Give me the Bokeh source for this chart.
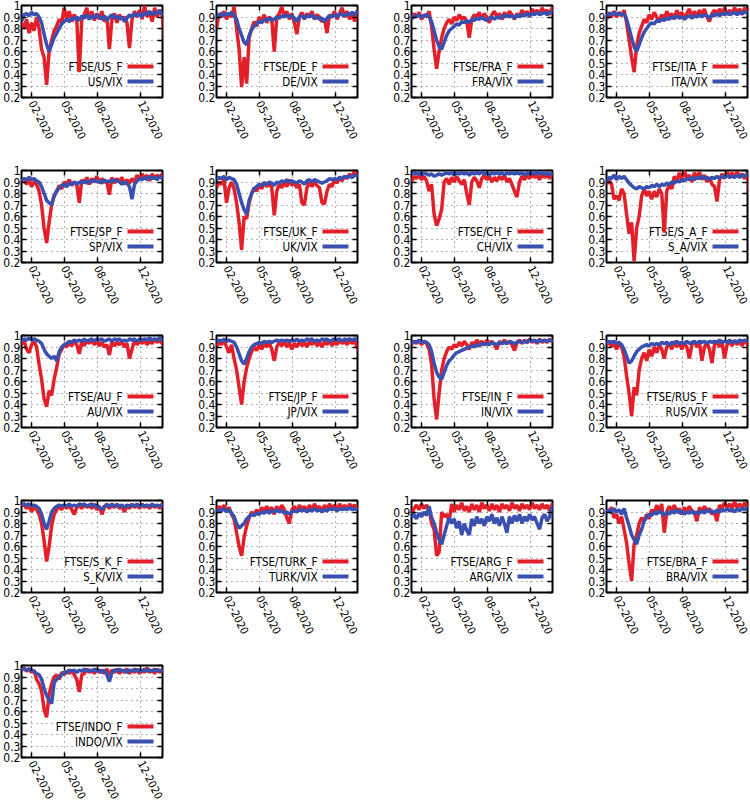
import pandas as pd
from bokeh.plotting import figure
from bokeh.layouts import row, column
from bokeh.models import (Range1d, FixedTicker, DatetimeTickFormatter, LinearAxis,
                          CustomJSTickFormatter, Label, BoxAnnotation)
from bokeh.embed import file_html
from bokeh.resources import INLINE

# ---------------- data (weekly readings) ----------------
dates = pd.date_range("2020-01-03", periods=58, freq="7D")
x_start = pd.Timestamp("2020-01-03")
x_end = pd.Timestamp("2021-01-30")
x_tick_dates = ["2020-02-01", "2020-05-01", "2020-08-01", "2020-12-01"]
y_ticks = [0.2, 0.3, 0.4, 0.5, 0.6, 0.7, 0.8, 0.9, 1.0]

codes = ["US", "DE", "FRA", "ITA", "SP", "UK", "CH", "S_A", "AU", "JP",
         "IN", "RUS", "S_K", "TURK", "ARG", "BRA", "INDO"]

ftse_us_f = [0.85, 0.80, 0.88, 0.76, 0.85, 0.78, 0.90, 0.80, 0.62, 0.55,
             0.31, 0.60, 0.70, 0.78, 0.82, 0.88, 0.85, 0.98, 0.88, 0.95,
             0.86, 0.92, 0.88, 0.42, 0.88, 0.92, 0.98, 0.88, 0.95, 0.87,
             0.93, 0.88, 0.95, 0.86, 0.90, 0.62, 0.88, 0.93, 0.85, 0.92,
             0.88, 0.90, 0.85, 0.63, 0.88, 0.95, 0.90, 0.96, 0.88, 1.00,
             0.90, 0.95, 0.86, 0.98, 0.90, 0.96, 0.92, 0.70]
us_vix = [0.86, 0.92, 0.93, 0.91, 0.94, 0.92, 0.93, 0.90, 0.85, 0.75,
          0.66, 0.60, 0.66, 0.72, 0.76, 0.80, 0.84, 0.86, 0.88, 0.86,
          0.89, 0.88, 0.90, 0.87, 0.91, 0.89, 0.92, 0.88, 0.91, 0.89,
          0.92, 0.90, 0.88, 0.91, 0.87, 0.90, 0.92, 0.89, 0.91, 0.88,
          0.90, 0.86, 0.89, 0.92, 0.90, 0.93, 0.91, 0.93, 0.90, 0.94,
          0.92, 0.95, 0.92, 0.94, 0.93, 0.96, 0.92, 0.94]

ftse_de_f = [0.80, 0.93, 0.90, 0.95, 0.88, 0.93, 0.90, 0.99, 0.80, 0.62,
             0.29, 0.55, 0.32, 0.72, 0.80, 0.86, 0.82, 0.90, 0.86, 0.92,
             0.85, 0.90, 0.88, 0.60, 0.90, 0.93, 0.99, 0.90, 0.95, 0.88,
             0.93, 0.85, 0.75, 0.90, 0.94, 0.88, 0.93, 0.90, 0.95, 0.88,
             0.92, 0.90, 0.86, 0.88, 0.76, 0.92, 0.90, 0.95, 0.88, 0.93,
             0.98, 0.90, 0.95, 0.88, 0.93, 0.86, 0.95, 0.88]
de_vix = [0.89, 0.92, 0.93, 0.91, 0.93, 0.92, 0.94, 0.91, 0.88, 0.80,
          0.74, 0.68, 0.66, 0.74, 0.79, 0.82, 0.84, 0.86, 0.85, 0.88,
          0.87, 0.89, 0.87, 0.88, 0.90, 0.89, 0.91, 0.90, 0.92, 0.90,
          0.91, 0.89, 0.86, 0.90, 0.91, 0.89, 0.91, 0.90, 0.92, 0.89,
          0.90, 0.88, 0.89, 0.86, 0.89, 0.91, 0.90, 0.92, 0.90, 0.93,
          0.92, 0.91, 0.93, 0.92, 0.94, 0.92, 0.95, 0.93]

ftse_fra_f = [0.88, 0.93, 0.90, 0.94, 0.88, 0.92, 0.90, 0.95, 0.82, 0.62,
              0.45, 0.60, 0.72, 0.80, 0.85, 0.88, 0.84, 0.90, 0.87, 0.92,
              0.88, 0.90, 0.86, 0.72, 0.88, 0.92, 0.90, 0.94, 0.88, 0.93,
              0.90, 0.85, 0.92, 0.95, 0.90, 0.93, 0.88, 0.94, 0.90, 0.95,
              0.92, 0.88, 0.93, 0.90, 0.96, 0.92, 0.95, 0.90, 0.97, 0.93,
              0.96, 0.92, 0.98, 0.94, 0.96, 0.92, 0.98, 0.95]
fra_vix = [0.88, 0.91, 0.90, 0.92, 0.90, 0.91, 0.92, 0.90, 0.86, 0.78,
           0.70, 0.64, 0.62, 0.68, 0.74, 0.78, 0.80, 0.82, 0.84, 0.83,
           0.86, 0.85, 0.87, 0.85, 0.88, 0.87, 0.89, 0.88, 0.90, 0.88,
           0.87, 0.89, 0.90, 0.88, 0.90, 0.89, 0.91, 0.90, 0.92, 0.90,
           0.91, 0.89, 0.92, 0.90, 0.92, 0.91, 0.93, 0.91, 0.93, 0.92,
           0.94, 0.92, 0.93, 0.94, 0.92, 0.94, 0.95, 0.93]

ftse_ita_f = [0.88, 0.94, 0.90, 0.95, 0.90, 0.94, 0.91, 0.96, 0.85, 0.70,
              0.55, 0.42, 0.65, 0.76, 0.82, 0.88, 0.85, 0.92, 0.88, 0.94,
              0.90, 0.86, 0.92, 0.88, 0.95, 0.90, 0.93, 0.88, 0.96, 0.91,
              0.94, 0.88, 0.93, 0.97, 0.90, 0.95, 0.90, 0.96, 0.92, 0.97,
              0.90, 0.86, 0.93, 0.96, 0.92, 0.97, 0.93, 0.98, 0.92, 0.96,
              0.93, 0.98, 0.94, 0.97, 0.92, 0.98, 0.95, 0.97]
ita_vix = [0.90, 0.93, 0.92, 0.94, 0.92, 0.93, 0.92, 0.93, 0.88, 0.80,
           0.72, 0.64, 0.60, 0.66, 0.72, 0.77, 0.80, 0.83, 0.85, 0.84,
           0.87, 0.86, 0.88, 0.87, 0.89, 0.88, 0.90, 0.89, 0.91, 0.89,
           0.90, 0.88, 0.90, 0.91, 0.89, 0.91, 0.90, 0.92, 0.90, 0.92,
           0.91, 0.89, 0.92, 0.91, 0.93, 0.91, 0.93, 0.92, 0.94, 0.92,
           0.93, 0.94, 0.92, 0.94, 0.93, 0.95, 0.93, 0.94]

ftse_sp_f = [0.90, 0.93, 0.88, 0.92, 0.86, 0.90, 0.88, 0.82, 0.70, 0.50,
             0.37, 0.55, 0.70, 0.78, 0.82, 0.87, 0.84, 0.90, 0.88, 0.92,
             0.87, 0.90, 0.88, 0.72, 0.92, 0.89, 0.94, 0.88, 0.93, 0.90,
             0.95, 0.89, 0.93, 0.90, 0.90, 0.79, 0.94, 0.89, 0.93, 0.90,
             0.94, 0.88, 0.92, 0.89, 0.93, 0.90, 0.96, 0.92, 0.97, 0.93,
             0.96, 0.91, 0.97, 0.93, 0.96, 0.94, 0.97, 0.92]
sp_vix = [0.91, 0.93, 0.92, 0.94, 0.92, 0.93, 0.91, 0.90, 0.86, 0.80,
          0.74, 0.72, 0.70, 0.78, 0.82, 0.85, 0.87, 0.88, 0.86, 0.89,
          0.88, 0.90, 0.88, 0.90, 0.89, 0.91, 0.89, 0.91, 0.90, 0.92,
          0.90, 0.91, 0.89, 0.92, 0.90, 0.91, 0.90, 0.92, 0.91, 0.90,
          0.88, 0.90, 0.89, 0.86, 0.75, 0.88, 0.91, 0.93, 0.92, 0.94,
          0.92, 0.95, 0.93, 0.94, 0.92, 0.95, 0.93, 0.94]

ftse_uk_f = [0.85, 0.90, 0.88, 0.92, 0.72, 0.85, 0.90, 0.84, 0.72, 0.55,
             0.31, 0.60, 0.58, 0.72, 0.80, 0.85, 0.82, 0.88, 0.84, 0.90,
             0.86, 0.89, 0.85, 0.61, 0.82, 0.88, 0.85, 0.90, 0.86, 0.92,
             0.87, 0.90, 0.85, 0.88, 0.72, 0.70, 0.85, 0.90, 0.86, 0.90,
             0.87, 0.85, 0.72, 0.71, 0.82, 0.88, 0.86, 0.92, 0.89, 0.94,
             0.91, 0.95, 0.93, 0.97, 0.94, 1.00, 0.95, 0.97]
uk_vix = [0.92, 0.94, 0.93, 0.95, 0.92, 0.94, 0.93, 0.92, 0.88, 0.80,
          0.72, 0.66, 0.62, 0.74, 0.80, 0.84, 0.86, 0.88, 0.87, 0.89,
          0.88, 0.90, 0.89, 0.87, 0.90, 0.89, 0.91, 0.90, 0.92, 0.90,
          0.91, 0.90, 0.89, 0.91, 0.90, 0.88, 0.91, 0.92, 0.90, 0.92,
          0.91, 0.90, 0.89, 0.90, 0.91, 0.93, 0.92, 0.93, 0.92, 0.94,
          0.93, 0.95, 0.94, 0.95, 0.94, 0.96, 0.95, 0.96]

ftse_ch_f = [0.90, 0.95, 0.93, 0.96, 0.92, 0.95, 0.91, 0.82, 0.88, 0.62,
             0.52, 0.58, 0.66, 0.90, 0.93, 0.88, 0.94, 0.90, 0.95, 0.91,
             0.88, 0.92, 0.80, 0.70, 0.90, 0.94, 0.91, 0.85, 0.93, 0.96,
             0.92, 0.95, 0.90, 0.94, 0.91, 0.95, 0.92, 0.96, 0.90, 0.93,
             0.88, 0.82, 0.77, 0.90, 0.95, 0.92, 0.96, 0.93, 0.97, 0.94,
             0.96, 0.92, 0.97, 0.94, 0.96, 0.93, 0.97, 0.95]
ch_vix = [0.97, 0.98, 0.97, 0.98, 0.96, 0.98, 0.97, 0.96, 0.97, 0.95,
          0.96, 0.97, 0.96, 0.97, 0.98, 0.97, 0.98, 0.96, 0.98, 0.97,
          0.98, 0.97, 0.98, 0.96, 0.98, 0.97, 0.98, 0.97, 0.99, 0.97,
          0.98, 0.96, 0.98, 0.97, 0.98, 0.97, 0.98, 0.96, 0.98, 0.97,
          0.98, 0.97, 0.98, 0.97, 0.98, 0.96, 0.98, 0.97, 0.98, 0.97,
          0.99, 0.97, 0.98, 0.97, 0.98, 0.96, 0.98, 0.97]

ftse_s_a_f = [0.88, 0.92, 0.88, 0.75, 0.78, 0.74, 0.84, 0.80, 0.62, 0.45,
              0.55, 0.21, 0.50, 0.60, 0.78, 0.84, 0.78, 0.82, 0.75, 0.82,
              0.77, 0.84, 0.80, 0.46, 0.82, 0.88, 0.84, 0.95, 0.90, 0.98,
              0.92, 1.00, 0.93, 0.96, 0.90, 0.98, 0.93, 0.99, 0.92, 0.96,
              0.90, 0.94, 0.88, 0.86, 0.73, 0.92, 0.97, 0.93, 0.99, 0.95,
              0.98, 0.94, 0.99, 0.95, 0.97, 0.93, 0.98, 0.80]
s_a_vix = [0.90, 0.94, 0.93, 0.96, 0.92, 0.95, 0.93, 0.95, 0.92, 0.89,
           0.87, 0.85, 0.84, 0.86, 0.85, 0.84, 0.86, 0.85, 0.87, 0.86,
           0.88, 0.86, 0.88, 0.87, 0.89, 0.88, 0.90, 0.89, 0.91, 0.90,
           0.92, 0.91, 0.93, 0.92, 0.94, 0.92, 0.94, 0.93, 0.95, 0.93,
           0.94, 0.92, 0.94, 0.93, 0.95, 0.93, 0.95, 0.94, 0.96, 0.94,
           0.95, 0.94, 0.96, 0.94, 0.96, 0.95, 0.97, 0.95]

ftse_au_f = [0.92, 0.96, 0.88, 0.85, 0.92, 0.95, 0.90, 0.75, 0.62, 0.45,
             0.38, 0.52, 0.48, 0.62, 0.72, 0.84, 0.88, 0.92, 0.90, 0.94,
             0.91, 0.95, 0.92, 0.84, 0.95, 0.91, 0.96, 0.93, 0.96, 0.92,
             0.95, 0.91, 0.94, 0.90, 0.92, 0.83, 0.95, 0.91, 0.94, 0.92,
             0.95, 0.90, 0.93, 0.80, 0.88, 0.96, 0.92, 0.95, 0.93, 0.96,
             0.92, 0.95, 0.93, 0.97, 0.94, 0.96, 0.93, 0.90]
au_vix = [0.95, 0.97, 0.96, 0.98, 0.96, 0.97, 0.96, 0.95, 0.93, 0.88,
          0.84, 0.82, 0.80, 0.82, 0.78, 0.86, 0.90, 0.92, 0.93, 0.95,
          0.94, 0.96, 0.95, 0.96, 0.95, 0.97, 0.95, 0.96, 0.97, 0.95,
          0.97, 0.96, 0.97, 0.95, 0.96, 0.97, 0.95, 0.97, 0.96, 0.97,
          0.95, 0.96, 0.95, 0.97, 0.96, 0.97, 0.95, 0.97, 0.96, 0.97,
          0.96, 0.98, 0.96, 0.97, 0.96, 0.98, 0.96, 0.97]

ftse_jp_f = [0.90, 0.95, 0.92, 0.96, 0.90, 0.85, 0.92, 0.80, 0.70, 0.55,
             0.40, 0.60, 0.72, 0.80, 0.86, 0.90, 0.87, 0.92, 0.88, 0.93,
             0.90, 0.94, 0.88, 0.78, 0.90, 0.94, 0.91, 0.95, 0.90, 0.94,
             0.88, 0.93, 0.90, 0.95, 0.91, 0.94, 0.90, 0.95, 0.92, 0.96,
             0.91, 0.94, 0.90, 0.95, 0.92, 0.96, 0.91, 0.95, 0.92, 0.96,
             0.93, 0.95, 0.92, 0.96, 0.93, 0.95, 0.90, 0.85]
jp_vix = [0.94, 0.96, 0.95, 0.97, 0.95, 0.96, 0.95, 0.94, 0.90, 0.84,
          0.78, 0.75, 0.80, 0.86, 0.90, 0.92, 0.93, 0.94, 0.93, 0.95,
          0.94, 0.95, 0.94, 0.95, 0.96, 0.95, 0.96, 0.95, 0.96, 0.95,
          0.96, 0.95, 0.97, 0.95, 0.96, 0.95, 0.97, 0.96, 0.97, 0.95,
          0.96, 0.95, 0.97, 0.96, 0.97, 0.95, 0.96, 0.97, 0.96, 0.97,
          0.95, 0.97, 0.96, 0.97, 0.96, 0.97, 0.96, 0.96]

ftse_in_f = [0.92, 0.95, 0.93, 0.96, 0.92, 0.95, 0.93, 0.88, 0.75, 0.45,
             0.27, 0.50, 0.70, 0.80, 0.86, 0.90, 0.88, 0.92, 0.90, 0.94,
             0.91, 0.95, 0.92, 0.88, 0.94, 0.92, 0.96, 0.93, 0.95, 0.92,
             0.96, 0.93, 0.95, 0.92, 0.88, 0.95, 0.93, 0.96, 0.93, 0.95,
             0.92, 0.87, 0.94, 0.96, 0.93, 0.96, 0.94, 0.97, 0.94, 0.96,
             0.93, 0.97, 0.94, 0.96, 0.94, 0.97, 0.95, 0.96]
in_vix = [0.93, 0.95, 0.94, 0.96, 0.94, 0.95, 0.94, 0.92, 0.86, 0.76,
          0.68, 0.64, 0.62, 0.68, 0.74, 0.78, 0.80, 0.83, 0.85, 0.86,
          0.87, 0.88, 0.89, 0.90, 0.91, 0.90, 0.92, 0.91, 0.93, 0.92,
          0.93, 0.92, 0.94, 0.93, 0.92, 0.94, 0.93, 0.94, 0.93, 0.95,
          0.94, 0.93, 0.94, 0.95, 0.94, 0.95, 0.94, 0.96, 0.95, 0.96,
          0.94, 0.96, 0.95, 0.96, 0.95, 0.96, 0.95, 0.96]

ftse_rus_f = [0.92, 0.95, 0.90, 0.94, 0.88, 0.93, 0.90, 0.82, 0.65, 0.50,
              0.30, 0.55, 0.48, 0.70, 0.80, 0.85, 0.78, 0.88, 0.82, 0.90,
              0.85, 0.92, 0.88, 0.80, 0.90, 0.93, 0.88, 0.95, 0.90, 0.94,
              0.88, 0.93, 0.90, 0.80, 0.92, 0.95, 0.90, 0.94, 0.78, 0.90,
              0.94, 0.88, 0.76, 0.92, 0.95, 0.90, 0.94, 0.80, 0.92, 0.95,
              0.91, 0.96, 0.92, 0.95, 0.91, 0.96, 0.93, 0.84]
rus_vix = [0.93, 0.95, 0.94, 0.95, 0.93, 0.94, 0.92, 0.88, 0.82, 0.76,
           0.78, 0.82, 0.86, 0.88, 0.90, 0.91, 0.92, 0.91, 0.93, 0.92,
           0.93, 0.92, 0.94, 0.93, 0.94, 0.92, 0.94, 0.93, 0.95, 0.93,
           0.94, 0.93, 0.95, 0.93, 0.94, 0.95, 0.93, 0.95, 0.94, 0.95,
           0.93, 0.95, 0.94, 0.95, 0.94, 0.96, 0.94, 0.95, 0.94, 0.96,
           0.94, 0.95, 0.94, 0.96, 0.95, 0.96, 0.95, 0.96]

ftse_s_k_f = [0.95, 0.97, 0.93, 0.96, 0.90, 0.95, 0.92, 0.88, 0.80, 0.65,
              0.47, 0.60, 0.78, 0.88, 0.92, 0.95, 0.92, 0.96, 0.93, 0.96,
              0.92, 0.88, 0.94, 0.96, 0.93, 0.97, 0.94, 0.96, 0.93, 0.97,
              0.92, 0.95, 0.88, 0.94, 0.97, 0.93, 0.96, 0.94, 0.97, 0.93,
              0.95, 0.90, 0.96, 0.93, 0.97, 0.94, 0.96, 0.93, 0.97, 0.94,
              0.96, 0.93, 0.97, 0.94, 0.96, 0.93, 0.97, 0.94]
s_k_vix = [0.96, 0.97, 0.96, 0.97, 0.95, 0.96, 0.95, 0.93, 0.88, 0.80,
           0.75, 0.82, 0.90, 0.93, 0.95, 0.96, 0.95, 0.96, 0.95, 0.97,
           0.95, 0.96, 0.95, 0.97, 0.96, 0.97, 0.95, 0.96, 0.97, 0.95,
           0.96, 0.94, 0.92, 0.95, 0.96, 0.95, 0.97, 0.95, 0.96, 0.95,
           0.96, 0.94, 0.96, 0.95, 0.96, 0.95, 0.97, 0.95, 0.96, 0.95,
           0.96, 0.95, 0.97, 0.95, 0.96, 0.95, 0.96, 0.95]

ftse_turk_f = [0.90, 0.95, 0.92, 0.96, 0.90, 0.94, 0.88, 0.84, 0.72, 0.60,
               0.52, 0.68, 0.78, 0.85, 0.90, 0.87, 0.92, 0.88, 0.94, 0.90,
               0.95, 0.91, 0.94, 0.88, 0.95, 0.91, 0.96, 0.92, 0.85, 0.80,
               0.92, 0.95, 0.90, 0.96, 0.92, 0.95, 0.90, 0.96, 0.92, 0.97,
               0.93, 0.95, 0.90, 0.96, 0.92, 0.97, 0.93, 0.96, 0.92, 0.97,
               0.93, 0.96, 0.92, 0.97, 0.94, 0.96, 0.93, 0.95]
turk_vix = [0.90, 0.92, 0.91, 0.93, 0.90, 0.92, 0.89, 0.86, 0.80, 0.76,
            0.78, 0.80, 0.84, 0.86, 0.88, 0.87, 0.89, 0.88, 0.90, 0.89,
            0.91, 0.89, 0.91, 0.90, 0.92, 0.90, 0.91, 0.89, 0.90, 0.88,
            0.90, 0.91, 0.90, 0.92, 0.91, 0.92, 0.90, 0.92, 0.91, 0.93,
            0.91, 0.92, 0.90, 0.92, 0.91, 0.93, 0.92, 0.93, 0.91, 0.93,
            0.92, 0.93, 0.92, 0.94, 0.92, 0.93, 0.92, 0.93]

ftse_arg_f = [0.88, 0.93, 0.96, 0.92, 0.97, 0.93, 0.96, 0.92, 0.80, 0.75,
              0.52, 0.55, 0.90, 0.86, 0.88, 0.82, 0.97, 0.90, 0.96, 0.92,
              0.98, 0.91, 0.95, 0.90, 0.97, 0.92, 0.96, 0.90, 0.98, 0.93,
              0.96, 0.91, 0.97, 0.92, 0.96, 0.90, 0.97, 0.93, 0.96, 0.91,
              0.98, 0.93, 0.96, 0.91, 0.97, 0.93, 0.96, 0.92, 0.98, 0.93,
              0.96, 0.92, 0.97, 0.93, 0.96, 0.91, 0.97, 0.94]
arg_vix = [0.85, 0.88, 0.84, 0.89, 0.86, 0.90, 0.87, 0.95, 0.85, 0.80,
           0.72, 0.66, 0.62, 0.70, 0.78, 0.85, 0.80, 0.84, 0.76, 0.82,
           0.70, 0.80, 0.74, 0.70, 0.84, 0.78, 0.86, 0.80, 0.84, 0.78,
           0.86, 0.82, 0.88, 0.80, 0.85, 0.78, 0.86, 0.80, 0.72, 0.86,
           0.80, 0.87, 0.82, 0.88, 0.80, 0.86, 0.82, 0.88, 0.83, 0.86,
           0.80, 0.75, 0.85, 0.88, 0.82, 0.86, 0.95, 0.82]

ftse_bra_f = [0.92, 0.90, 0.94, 0.85, 0.88, 0.80, 0.86, 0.75, 0.63, 0.45,
              0.30, 0.62, 0.70, 0.80, 0.85, 0.82, 0.88, 0.84, 0.92, 0.88,
              0.96, 0.90, 0.97, 0.72, 0.90, 0.95, 0.91, 0.96, 0.90, 0.93,
              0.88, 0.94, 0.90, 0.95, 0.91, 0.90, 0.82, 0.94, 0.90, 0.95,
              0.91, 0.93, 0.88, 0.90, 0.82, 0.96, 0.93, 0.98, 0.94, 0.97,
              0.93, 0.99, 0.94, 0.97, 0.93, 0.98, 0.95, 0.97]
bra_vix = [0.90, 0.92, 0.89, 0.93, 0.90, 0.92, 0.88, 0.93, 0.85, 0.78,
           0.70, 0.66, 0.62, 0.70, 0.75, 0.82, 0.86, 0.88, 0.87, 0.90,
           0.88, 0.91, 0.89, 0.87, 0.90, 0.88, 0.91, 0.89, 0.92, 0.89,
           0.91, 0.88, 0.90, 0.89, 0.91, 0.88, 0.90, 0.89, 0.91, 0.89,
           0.92, 0.90, 0.91, 0.89, 0.92, 0.90, 0.92, 0.91, 0.93, 0.91,
           0.92, 0.90, 0.93, 0.91, 0.93, 0.92, 0.94, 0.92]

ftse_indo_f = [0.96, 0.98, 0.95, 0.97, 0.94, 0.96, 0.88, 0.84, 0.78, 0.62,
               0.55, 0.75, 0.84, 0.90, 0.92, 0.88, 0.94, 0.92, 0.95, 0.93,
               0.96, 0.92, 0.88, 0.77, 0.92, 0.93, 0.97, 0.94, 0.96, 0.93,
               0.97, 0.94, 0.96, 0.93, 0.97, 0.92, 0.96, 0.94, 0.97, 0.93,
               0.96, 0.94, 0.97, 0.93, 0.96, 0.94, 0.97, 0.93, 0.96, 0.94,
               0.98, 0.94, 0.96, 0.93, 0.97, 0.94, 0.96, 0.95]
indo_vix = [0.96, 0.97, 0.96, 0.97, 0.96, 0.95, 0.93, 0.92, 0.88, 0.80,
            0.74, 0.70, 0.67, 0.85, 0.88, 0.90, 0.92, 0.94, 0.94, 0.96,
            0.95, 0.96, 0.94, 0.96, 0.95, 0.97, 0.95, 0.96, 0.95, 0.97,
            0.95, 0.96, 0.94, 0.96, 0.92, 0.86, 0.94, 0.96, 0.95, 0.97,
            0.95, 0.96, 0.94, 0.96, 0.95, 0.97, 0.95, 0.96, 0.95, 0.97,
            0.95, 0.96, 0.95, 0.97, 0.95, 0.96, 0.95, 0.96]

ftse_series = [ftse_us_f, ftse_de_f, ftse_fra_f, ftse_ita_f, ftse_sp_f, ftse_uk_f,
               ftse_ch_f, ftse_s_a_f, ftse_au_f, ftse_jp_f, ftse_in_f, ftse_rus_f,
               ftse_s_k_f, ftse_turk_f, ftse_arg_f, ftse_bra_f, ftse_indo_f]
vix_series = [us_vix, de_vix, fra_vix, ita_vix, sp_vix, uk_vix, ch_vix, s_a_vix,
              au_vix, jp_vix, in_vix, rus_vix, s_k_vix, turk_vix, arg_vix, bra_vix,
              indo_vix]

# ---------------- styling ----------------
RED = "#e3202a"
BLUE = "#3a50b0"
FRAME_W, FRAME_H = 144, 92
CELL_W, CELL_H = 195, 165
LAST_W = 168
FONT = "DejaVu Sans Condensed, Liberation Sans"

x_tick_ms = [pd.Timestamp(d).value / 1e6 for d in x_tick_dates]
fmt = "%m-%Y"
date_fmt = DatetimeTickFormatter(microseconds=fmt, milliseconds=fmt, seconds=fmt,
                                 minsec=fmt, minutes=fmt, hourmin=fmt, hours=fmt,
                                 days=fmt, months=fmt, years=fmt)


def style_axis(ax, size="12px"):
    ax.major_tick_in = 5
    ax.major_tick_out = 0
    ax.major_tick_line_color = "black"
    ax.major_tick_line_width = 1.5
    ax.minor_tick_line_color = None
    ax.axis_line_color = None
    ax.major_label_text_font = FONT
    ax.major_label_text_font_size = size
    ax.major_label_text_color = "black"


def make_panel(idx, code, red, blue):
    col = idx % 4
    w = LAST_W if col == 3 else CELL_W
    p = figure(width=w, height=CELL_H, x_axis_type="datetime",
               x_range=Range1d(x_start, x_end), y_range=Range1d(0.2, 1.0),
               output_backend="svg", toolbar_location=None,
               min_border_left=18, min_border_right=w - 18 - FRAME_W,
               min_border_top=5, min_border_bottom=CELL_H - 5 - FRAME_H)
    p.outline_line_color = "black"
    p.outline_line_width = 2
    p.background_fill_color = "white"
    p.border_fill_color = "white"

    xt = FixedTicker(ticks=x_tick_ms)
    yt = FixedTicker(ticks=y_ticks)

    xa = p.xaxis[0]
    xa.ticker = xt
    xa.formatter = date_fmt
    style_axis(xa, "11px")
    xa.major_label_orientation = -1.1
    xa.major_label_standoff = 4

    ya = p.yaxis[0]
    ya.ticker = yt
    ya.formatter = CustomJSTickFormatter(code="return tick.toString();")
    style_axis(ya, "12px")
    ya.major_label_standoff = 1

    blank = CustomJSTickFormatter(code="return '';")
    top = LinearAxis(ticker=xt, formatter=blank)
    style_axis(top)
    top.major_label_text_font_size = "0px"
    top.major_label_standoff = 0
    p.add_layout(top, "above")
    right = LinearAxis(ticker=yt, formatter=blank)
    style_axis(right)
    right.major_label_text_font_size = "0px"
    right.major_label_standoff = 0
    p.add_layout(right, "right")

    for g, t in ((p.xgrid, xt), (p.ygrid, yt)):
        g.ticker = t
        g.grid_line_color = "black"
        g.grid_line_alpha = 0.6
        g.grid_line_dash = "1 4"
        g.grid_line_width = 1

    # key (drawn beneath the curves, as in the original)
    entries = [(f"FTSE/{code}_F", RED), (f"{code}/VIX", BLUE)]
    for k, (txt, color) in enumerate(entries):
        yk = 31 - 15 * k
        p.add_layout(Label(x=101, y=yk, x_units="screen", y_units="screen", text=txt,
                           text_align="right", text_baseline="middle",
                           text_font=FONT, text_font_size="11.5px",
                           text_color="black", level="underlay"))
        p.add_layout(BoxAnnotation(left=106, right=132, bottom=yk - 2, top=yk + 2,
                                   left_units="screen", right_units="screen",
                                   bottom_units="screen", top_units="screen",
                                   fill_color=color, fill_alpha=1.0,
                                   line_color=None, level="underlay"))

    p.line(dates, red, line_color=RED, line_width=3.5)
    p.line(dates, blue, line_color=BLUE, line_width=3.5)
    return p


figs = [make_panel(i, codes[i], ftse_series[i], vix_series[i]) for i in range(len(codes))]
rows = [row(figs[i:i + 4], spacing=0) for i in range(0, len(figs), 4)]
layout = column(rows, spacing=0)

open("out.html", "w").write(file_html(layout, INLINE))
